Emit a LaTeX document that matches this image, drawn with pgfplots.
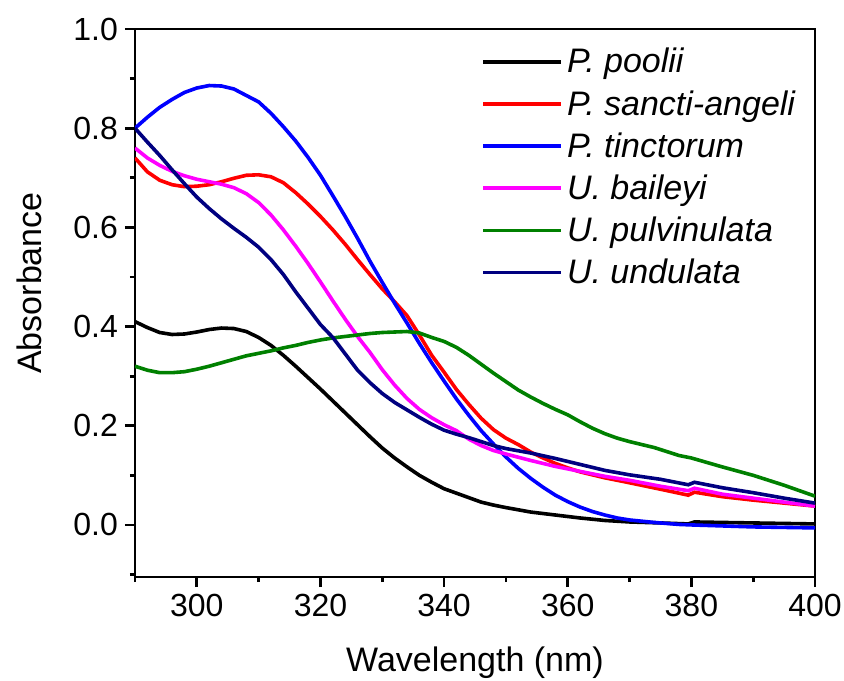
\documentclass[border=0pt]{standalone}
\usepackage{fontspec}
\setmainfont{Liberation Sans}
\usepackage{pgfplots}
\pgfplotsset{compat=1.18}
\definecolor{cnavy}{HTML}{000080}
\definecolor{cgreen}{HTML}{008000}
\definecolor{cmag}{HTML}{FF00FF}
\definecolor{cblue}{HTML}{0000FF}
\definecolor{cred}{HTML}{FF0000}
\newcommand{\tck}{\fontsize{16}{18}\selectfont}
\newcommand{\lbl}{\fontsize{17}{19}\selectfont}
\begin{document}
\begin{tikzpicture}
\begin{axis}[
  name=ax,
  scale only axis,width=340pt,height=274pt,
  xmin=290,xmax=400,ymin=-0.105,ymax=1.0,
  xtick={300,320,340,360,380,400},minor xtick={290,310,330,350,370,390},
  ytick={0,0.2,0.4,0.6,0.8,1.0},minor ytick={-0.1,0.1,0.3,0.5,0.7,0.9},
  xtick pos=bottom,ytick pos=left,
  tick align=outside,major tick length=5pt,minor tick length=2.5pt,
  axis line style={line width=1.4pt},
  every tick/.style={line width=1.4pt,black},
  tick label style={font=\tck},label style={font=\lbl},
  /pgf/number format/assume math mode=true,
  yticklabel style={/pgf/number format/fixed,/pgf/number format/fixed zerofill,
    /pgf/number format/precision=1},
  xlabel={Wavelength (nm)},ylabel={Absorbance},
  xlabel style={yshift=-8pt},ylabel style={yshift=9pt,xshift=10pt},
  legend style={draw=none,fill=none,font=\lbl,at={(0.5,0.98)},anchor=north west,
    row sep=3.2pt},
  legend cell align=left,
  legend image code/.code={\draw[#1,line width=1.8pt] (0pt,0pt) -- (39pt,0pt);},
  every axis plot/.append style={line width=1.8pt,no marks},
]
\addplot[black] coordinates {
(290,0.410) (292,0.398) (294,0.388) (296,0.384) (298,0.385) (300,0.389)
(302,0.394) (304,0.397) (306,0.396) (308,0.390) (310,0.378) (312,0.362)
(314,0.342) (316,0.320) (318,0.297) (320,0.274) (322,0.250) (324,0.226)
(326,0.202) (328,0.178) (330,0.155) (332,0.135) (334,0.117) (336,0.100)
(338,0.086) (340,0.073) (342,0.064) (344,0.055) (346,0.046) (348,0.040)
(350,0.035) (354,0.026) (358,0.020) (362,0.014) (366,0.009) (370,0.006)
(375,0.004) (379.5,0.002) (380.5,0.006) (385,0.005) (390,0.004) (395,0.003)
(400,0.002)};
\addplot[cred] coordinates {
(290,0.740) (292,0.712) (294,0.695) (296,0.686) (298,0.682) (300,0.683)
(302,0.686) (304,0.692) (306,0.699) (308,0.705) (310,0.706) (312,0.702)
(314,0.690) (316,0.670) (318,0.647) (320,0.622) (322,0.595) (324,0.566)
(326,0.535) (328,0.505) (330,0.476) (332,0.450) (334,0.422) (336,0.383)
(338,0.342) (340,0.308) (342,0.273) (344,0.243) (346,0.215) (348,0.192)
(350,0.175) (352,0.162) (354,0.147) (356,0.135) (358,0.124) (360,0.115)
(362,0.107) (366,0.095) (370,0.085) (375,0.072) (379.5,0.060) (380.5,0.066)
(385,0.057) (390,0.050) (395,0.044) (400,0.038)};
\addplot[cblue] coordinates {
(290,0.800) (292,0.822) (294,0.842) (296,0.858) (298,0.872) (300,0.881)
(302,0.886) (304,0.885) (306,0.879) (308,0.866) (310,0.853) (312,0.830)
(314,0.803) (316,0.774) (318,0.741) (320,0.705) (322,0.664) (324,0.622)
(326,0.578) (328,0.532) (330,0.489) (332,0.447) (334,0.407) (336,0.366)
(338,0.327) (340,0.290) (342,0.254) (344,0.221) (346,0.190) (348,0.163)
(350,0.137) (352,0.114) (354,0.094) (356,0.076) (358,0.060) (360,0.047)
(362,0.036) (364,0.027) (366,0.020) (368,0.014) (370,0.010) (374,0.005)
(378,0.001) (380,0.000) (385,-0.002) (390,-0.004) (395,-0.005) (400,-0.006)};
\addplot[cmag] coordinates {
(290,0.760) (292,0.740) (294,0.725) (296,0.713) (298,0.704) (300,0.697)
(302,0.692) (304,0.687) (306,0.680) (308,0.668) (310,0.650) (312,0.625)
(314,0.595) (316,0.562) (318,0.527) (320,0.490) (322,0.452) (324,0.415)
(326,0.380) (328,0.348) (330,0.313) (332,0.282) (334,0.255) (336,0.233)
(338,0.216) (340,0.202) (342,0.190) (344,0.173) (346,0.160) (348,0.150)
(350,0.143) (354,0.130) (358,0.118) (362,0.108) (366,0.098) (370,0.090)
(375,0.078) (379.5,0.069) (380.5,0.074) (385,0.062) (390,0.054) (395,0.046)
(400,0.038)};
\addplot[cgreen] coordinates {
(290,0.320) (292,0.312) (294,0.307) (296,0.307) (298,0.309) (300,0.314)
(302,0.320) (304,0.327) (306,0.334) (308,0.341) (310,0.346) (312,0.351)
(314,0.357) (316,0.362) (318,0.368) (320,0.373) (322,0.377) (324,0.380)
(326,0.383) (328,0.386) (330,0.388) (332,0.389) (334,0.390) (336,0.387)
(338,0.378) (340,0.370) (342,0.358) (344,0.342) (346,0.324) (348,0.306)
(350,0.289) (352,0.272) (354,0.258) (356,0.245) (358,0.233) (360,0.222)
(362,0.208) (364,0.195) (366,0.184) (368,0.175) (370,0.168) (374,0.156)
(378,0.140) (380,0.135) (385,0.117) (390,0.100) (395,0.080) (400,0.058)};
\addplot[cnavy] coordinates {
(290,0.800) (292,0.772) (294,0.745) (296,0.716) (298,0.688) (300,0.661)
(302,0.638) (304,0.617) (306,0.598) (308,0.580) (310,0.560) (312,0.535)
(314,0.505) (316,0.470) (318,0.437) (320,0.404) (322,0.378) (324,0.345)
(326,0.312) (328,0.287) (330,0.265) (332,0.247) (334,0.232) (336,0.217)
(338,0.203) (340,0.191) (342,0.183) (344,0.176) (346,0.168) (348,0.160)
(350,0.154) (354,0.145) (358,0.134) (362,0.122) (366,0.110) (370,0.101)
(375,0.092) (379.5,0.081) (380.5,0.086) (385,0.075) (390,0.065) (395,0.054)
(400,0.044)};
\legend{\textit{P. poolii},\textit{P. sancti-angeli},\textit{P. tinctorum},
  \textit{U. baileyi},\textit{U. pulvinulata},\textit{U. undulata}}
\end{axis}
\pgfresetboundingbox
\path[use as bounding box] ([xshift=-67.5pt,yshift=-51.5pt]ax.south west)
  rectangle ([xshift=14.5pt,yshift=14.5pt]ax.north east);
\end{tikzpicture}
\end{document}
